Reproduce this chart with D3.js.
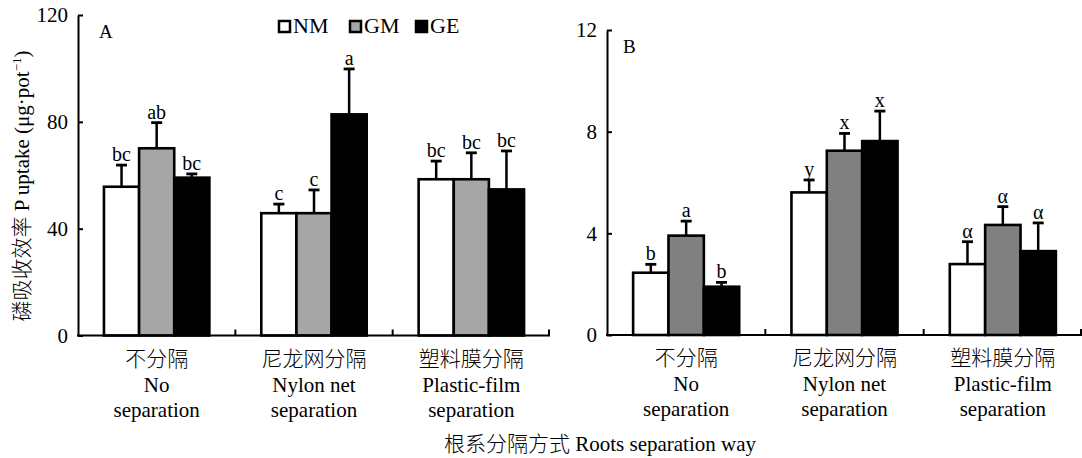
<!DOCTYPE html>
<html>
<head>
<meta charset="utf-8">
<script src="https://cdn.jsdelivr.net/npm/d3@7"></script>
<style>
  html, body { margin: 0; padding: 0; background: #fff; }
  svg { display: block; }
  text { font-family: "Liberation Serif", "Times New Roman", "Noto Sans CJK SC", serif; fill: #000; }
  .cjk { font-weight: 300; }
</style>
</head>
<body>
<svg id="chart" width="1082" height="458"></svg>
<script>
// ---------- data ----------
const categoriesCN = ["不分隔", "尼龙网分隔", "塑料膜分隔"];
const categoriesEN1 = ["No", "Nylon net", "Plastic-film"];
const categoriesEN2 = ["separation", "separation", "separation"];
const series = ["NM", "GM", "GE"];

// Panel A: P uptake (µg·pot-1)
const aNM = [55.7, 45.8, 58.5];
const aGM = [70.1, 45.8, 58.5];
const aGE = [59.1, 82.8, 54.7];
const aNMtop = [63.8, 49.2, 65.3];
const aGMtop = [79.7, 54.5, 68.4];
const aGEtop = [60.5, 99.8, 69.1];
const aNMlab = ["bc", "c", "bc"];
const aGMlab = ["ab", "c", "bc"];
const aGElab = ["bc", "a", "bc"];
const aTicks = [0, 40, 80, 120];

// Panel B
const bNM = [2.45, 5.61, 2.79];
const bGM = [3.91, 7.25, 4.33];
const bGE = [1.90, 7.63, 3.30];
const bNMtop = [2.78, 6.10, 3.67];
const bGMtop = [4.48, 7.93, 5.05];
const bGEtop = [2.07, 8.81, 4.41];
const bNMlab = ["b", "y", "α"];
const bGMlab = ["a", "x", "α"];
const bGElab = ["b", "x", "α"];
const bTicks = [0, 4, 8, 12];

const svg = d3.select("#chart");
const FONT = 21;

function panel(opts) {
  const g = svg.append("g");
  const y = d3.scaleLinear().domain([0, opts.ymax]).range([opts.y0, opts.y1]);
  const x0 = d3.scaleBand().domain(categoriesCN).range([opts.xl, opts.xr]).paddingInner(0.33).paddingOuter(0.165);
  const x1 = d3.scaleBand().domain(series).range([0, x0.bandwidth()]);
  const fills = { NM: "#ffffff", GM: opts.gmFill, GE: "#000000" };

  const rows = [];
  categoriesCN.forEach((c, i) => {
    series.forEach((s) => {
      rows.push({ c, s, v: opts.vals[s][i], top: opts.tops[s][i], lab: opts.labs[s][i] });
    });
  });

  // bars
  g.selectAll("rect.bar").data(rows).enter().append("rect")
    .attr("class", "bar")
    .attr("x", d => x0(d.c) + x1(d.s))
    .attr("y", d => y(d.v))
    .attr("width", x1.bandwidth())
    .attr("height", d => y(0) - y(d.v))
    .attr("fill", d => fills[d.s])
    .attr("stroke", "#000")
    .attr("stroke-width", 2.6);

  // error bars
  const cx = d => x0(d.c) + x1(d.s) + x1.bandwidth() / 2;
  g.selectAll("line.err").data(rows).enter().append("line")
    .attr("x1", cx).attr("x2", cx)
    .attr("y1", d => y(d.v)).attr("y2", d => y(d.top))
    .attr("stroke", "#000").attr("stroke-width", 2.5);
  g.selectAll("line.cap").data(rows).enter().append("line")
    .attr("x1", d => cx(d) - 5.5).attr("x2", d => cx(d) + 5.5)
    .attr("y1", d => y(d.top)).attr("y2", d => y(d.top))
    .attr("stroke", "#000").attr("stroke-width", 2.8);
  g.selectAll("text.lab").data(rows).enter().append("text")
    .attr("x", cx).attr("y", d => y(d.top) - 4)
    .attr("text-anchor", "middle").attr("font-size", 20)
    .text(d => d.lab);

  // y axis
  const yAxis = d3.axisLeft(y).tickValues(opts.ticks).tickSize(-5).tickSizeOuter(0).tickPadding(10);
  const ya = g.append("g").attr("transform", `translate(${opts.xl},0)`).call(yAxis);
  ya.selectAll("path").attr("stroke", "#000").attr("stroke-width", 2);
  ya.selectAll("line").attr("stroke", "#000").attr("stroke-width", 2);
  ya.selectAll("text").attr("font-size", FONT)
    .attr("font-family", '"Liberation Serif", "Times New Roman", serif');

  // x axis baseline with upward ticks at group boundaries
  g.append("line").attr("x1", opts.xl - 1).attr("x2", opts.xr)
    .attr("y1", y(0)).attr("y2", y(0)).attr("stroke", "#000").attr("stroke-width", 2);
  const step = x0.step();
  const bounds = [1, 2, 3].map(k => opts.xl + k * step);
  g.selectAll("line.xt").data(bounds).enter().append("line")
    .attr("x1", d => Math.min(d, opts.xr - 1)).attr("x2", d => Math.min(d, opts.xr - 1))
    .attr("y1", y(0)).attr("y2", y(0) - 6)
    .attr("stroke", "#000").attr("stroke-width", 2);

  // category labels
  const lab = g.selectAll("g.cat").data(categoriesCN).enter().append("g")
    .attr("transform", d => `translate(${x0(d) + x0.bandwidth() / 2},0)`);
  lab.append("text").attr("class", "cjk").attr("y", y(0) + 30).attr("text-anchor", "middle").attr("font-size", FONT)
    .text((d, i) => categoriesCN[i]);
  lab.append("text").attr("y", y(0) + 56).attr("text-anchor", "middle").attr("font-size", FONT)
    .text((d, i) => categoriesEN1[i]);
  lab.append("text").attr("y", y(0) + 81).attr("text-anchor", "middle").attr("font-size", FONT)
    .text((d, i) => categoriesEN2[i]);

  // panel letter
  g.append("text").attr("x", opts.letterX).attr("y", opts.letterY).attr("font-size", 19).text(opts.letter);
}

panel({
  xl: 78, xr: 550, y0: 335.5, y1: 15, ymax: 120, ticks: aTicks, gmFill: "#a6a6a6",
  vals: { NM: aNM, GM: aGM, GE: aGE },
  tops: { NM: aNMtop, GM: aGMtop, GE: aGEtop },
  labs: { NM: aNMlab, GM: aGMlab, GE: aGElab },
  letter: "A", letterX: 99, letterY: 38
});

panel({
  xl: 607, xr: 1082, y0: 335, y1: 30, ymax: 12, ticks: bTicks, gmFill: "#808080",
  vals: { NM: bNM, GM: bGM, GE: bGE },
  tops: { NM: bNMtop, GM: bGMtop, GE: bGEtop },
  labs: { NM: bNMlab, GM: bGMlab, GE: bGElab },
  letter: "B", letterX: 623, letterY: 53
});

// legend
const legFill = { NM: "#ffffff", GM: "#a6a6a6", GE: "#000000" };
const legX = [279, 350, 416];
const leg = svg.append("g").selectAll("g").data(series).enter().append("g")
  .attr("transform", (d, i) => `translate(${legX[i]},0)`);
leg.append("rect").attr("x", 0).attr("y", 21).attr("width", 11).attr("height", 11)
  .attr("fill", d => legFill[d]).attr("stroke", "#000").attr("stroke-width", 2.5);
leg.append("text").attr("x", 14).attr("y", 33).attr("font-size", 22).text(d => d);

// y-axis title
const yt = svg.append("text")
  .attr("transform", "translate(29,186) rotate(-90)")
  .attr("text-anchor", "middle").attr("font-size", 21);
yt.append("tspan").attr("class", "cjk").text("磷吸收效率");
yt.append("tspan").text(" P uptake (μg·pot");
yt.append("tspan").attr("font-size", 13).attr("dy", -8).text("−1");
yt.append("tspan").attr("dy", 8).text(")");

// x-axis title
const xt = svg.append("text").attr("x", 600).attr("y", 451).attr("text-anchor", "middle")
  .attr("font-size", 21);
xt.append("tspan").attr("class", "cjk").text("根系分隔方式");
xt.append("tspan").text(" Roots separation way");
</script>
</body>
</html>
